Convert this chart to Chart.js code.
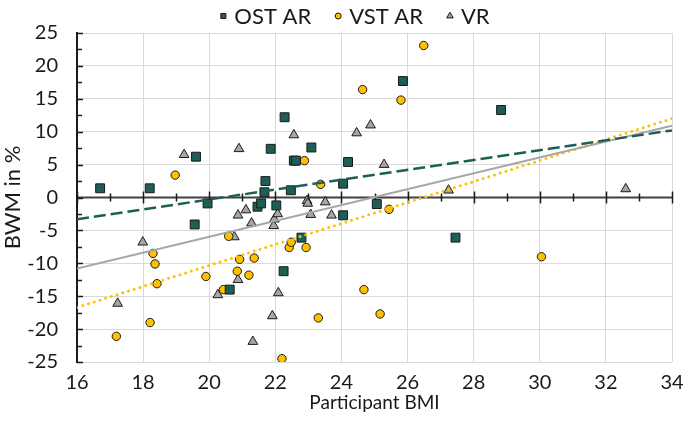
<!DOCTYPE html>
<html>
<head>
<meta charset="utf-8">
<script src="https://cdn.jsdelivr.net/npm/chart.js@4/dist/chart.umd.min.js"></script>
<style>
  html, body { margin: 0; padding: 0; background: #fff; }
  #wrap { width: 687px; height: 426px; }
</style>
</head>
<body>
<div id="wrap"><canvas id="chart" width="687" height="426"></canvas></div>
<script>
// data
const seriesNames = ['OST AR', 'VST AR', 'VR'];

const ostBmi = [16.7, 18.2, 19.6, 19.56, 19.95, 20.62, 21.46, 21.57, 21.67, 21.7, 21.86, 22.03, 22.25, 22.28, 22.47, 22.56, 22.62, 22.79, 23.09, 24.05, 24.05, 24.2, 25.07, 25.86, 27.45, 28.83];
const ostBwm = [1.4, 1.4, 6.2, -4.1, -0.9, -14.0, -1.4, -0.9, 0.8, 2.5, 7.4, -1.2, -11.2, 12.2, 1.1, 5.6, 5.6, -6.1, 7.6, 2.1, -2.7, 5.4, -1.0, 17.7, -6.1, 13.3];

const vstBmi = [17.19, 18.21, 18.3, 18.36, 18.42, 18.97, 19.9, 20.43, 20.59, 20.85, 20.92, 21.2, 21.36, 22.2, 22.42, 22.48, 22.88, 22.93, 23.3, 23.37, 24.64, 24.68, 25.17, 25.44, 25.8, 26.49, 30.05];
const vstBwm = [-21.1, -19.0, -8.5, -10.1, -13.1, 3.4, -12.0, -14.0, -5.9, -11.2, -9.4, -11.8, -9.2, -24.5, -7.6, -6.8, 5.6, -7.6, -18.3, 2.0, 16.4, -14.0, -17.7, -1.8, 14.8, 23.1, -9.0];

const vrBmi = [17.23, 17.99, 19.24, 20.26, 20.76, 20.87, 20.87, 20.9, 21.11, 21.28, 21.32, 21.91, 21.95, 21.97, 22.07, 22.09, 22.56, 22.96, 22.98, 23.07, 23.51, 23.7, 24.46, 24.88, 25.29, 27.24, 32.6];
const vrBwm = [-16.1, -6.8, 6.5, -14.8, -6.0, -2.7, -12.5, 7.4, -1.9, -3.9, -21.9, -18.0, -4.3, -3.3, -2.5, -14.5, 9.5, -0.5, -0.9, -2.6, -0.7, -2.7, 9.8, 11.0, 5.0, 1.1, 1.3];

// linear trend lines, end points read at BMI 16 and 34
const trendBmi = [16, 34];
const ostTrend = [-3.3, 10.2];
const vstTrend = [-16.7, 12.0];
const vrTrend = [-10.8, 10.9];

const TEAL = '#1d5e57';
const YELLOW = '#ffc000';
const GREY = '#a6a6a6';
const FONT = 'Lato';

function pts(xs, ys) {
    return xs.map((x, i) => ({ x: x, y: ys[i] }));
}

// axis line at y = 0 with crossing tick marks, inner ticks on the y axis
const axisPlugin = {
    id: 'axisPlugin',
    beforeDatasetsDraw(chart) {
        const ctx = chart.ctx;
        const xs = chart.scales.x, ys = chart.scales.y;
        const y0 = ys.getPixelForValue(0);
        const left = chart.chartArea.left;
        ctx.save();
        ctx.strokeStyle = '#404040';
        ctx.lineWidth = 2;
        ctx.beginPath();
        ctx.moveTo(left, y0);
        ctx.lineTo(chart.chartArea.right, y0);
        ctx.stroke();
        ctx.lineWidth = 1.5;
        ctx.strokeStyle = '#1a1a1a';
        for (let v = 16; v <= 34; v++) {
            const px = Math.round(xs.getPixelForValue(v)) + 0.5;
            const len = v % 2 === 0 ? 6 : 4;
            ctx.beginPath();
            ctx.moveTo(px, y0 - len);
            ctx.lineTo(px, y0 + len);
            ctx.stroke();
        }
        for (let v = -25; v <= 25; v += 2.5) {
            const py = Math.round(ys.getPixelForValue(v)) + 0.5;
            const len = v % 5 === 0 ? 6 : 5;
            ctx.beginPath();
            ctx.moveTo(left, py);
            ctx.lineTo(left + len, py);
            ctx.stroke();
        }
        ctx.restore();
    }
};

// legend row at the top, markers taken from the first three datasets
const legendPlugin = {
    id: 'legendRow',
    afterDraw(chart) {
        const ctx = chart.ctx;
        const sets = chart.data.datasets.slice(0, 3);
        const sizes = [3.6, 3, 3.8];
        ctx.save();
        ctx.font = '22px ' + FONT;
        ctx.textBaseline = 'middle';
        const widths = sets.map(d => ctx.measureText(d.label).width);
        let total = widths.reduce((a, b) => a + b, 0) + sets.length * 14 + (sets.length - 1) * 24;
        let x = 355 - total / 2;
        const y = 16;
        sets.forEach((d, i) => {
            ctx.fillStyle = d.backgroundColor;
            ctx.strokeStyle = d.borderColor;
            ctx.lineWidth = 1;
            Chart.helpers.drawPoint(ctx, { pointStyle: d.pointStyle, radius: sizes[i], borderWidth: 1 }, x + 3, y);
            ctx.fillStyle = '#1a1a1a';
            ctx.fillText(d.label, x + 14, y + 1);
            x += 14 + widths[i] + 24;
        });
        ctx.restore();
    }
};

const markerBase = { borderColor: '#1a1a1a', borderWidth: 1, showLine: false, order: 1 };
const trendBase = { showLine: true, pointRadius: 0, fill: false, order: 0 };

new Chart(document.getElementById('chart'), {
    type: 'scatter',
    data: {
        datasets: [
            Object.assign({ label: seriesNames[0], data: pts(ostBmi, ostBwm), backgroundColor: TEAL, pointStyle: 'rect', pointRadius: 6.3 }, markerBase),
            Object.assign({ label: seriesNames[1], data: pts(vstBmi, vstBwm), backgroundColor: YELLOW, pointStyle: 'circle', pointRadius: 4.2 }, markerBase),
            Object.assign({ label: seriesNames[2], data: pts(vrBmi, vrBwm), backgroundColor: GREY, pointStyle: 'triangle', pointRadius: 5.6 }, markerBase),
            Object.assign({ label: 'trend OST', data: pts(trendBmi, ostTrend), borderColor: TEAL, borderWidth: 2.5, borderDash: [12, 5] }, trendBase),
            Object.assign({ label: 'trend VR', data: pts(trendBmi, vrTrend), borderColor: GREY, borderWidth: 2 }, trendBase),
            Object.assign({ label: 'trend VST', data: pts(trendBmi, vstTrend), borderColor: YELLOW, borderWidth: 3, borderDash: [0, 6], borderCapStyle: 'round' }, trendBase)
        ]
    },
    options: {
        responsive: false,
        animation: false,
        layout: { padding: { top: 33, right: 15, left: 0, bottom: 0 } },
        plugins: {
            tooltip: { enabled: false },
            legend: { display: false }
        },
        scales: {
            x: {
                type: 'linear',
                min: 16, max: 34,
                ticks: { stepSize: 2, color: '#1a1a1a', padding: 9, font: { family: FONT, size: 20 } },
                grid: { color: '#d9d9d9', lineWidth: 1, drawTicks: false },
                border: { display: false },
                title: { display: true, text: 'Participant BMI', color: '#1a1a1a', padding: { top: 0, bottom: 12 }, font: { family: FONT, size: 19 } },
                afterFit: s => { s.height = 64; s.paddingLeft = 0; s.paddingRight = 0; }
            },
            y: {
                type: 'linear',
                min: -25, max: 25,
                ticks: { stepSize: 5, color: '#1a1a1a', padding: 19, font: { family: FONT, size: 20 } },
                grid: { color: c => c.tick.value === 0 ? 'rgba(0,0,0,0)' : '#d9d9d9', lineWidth: 1, drawTicks: false },
                border: { display: true, color: '#1a1a1a', width: 2 },
                title: { display: true, text: 'BWM in %', color: '#1a1a1a', padding: { top: 0, bottom: 0 }, font: { family: FONT, size: 22 } },
                afterFit: s => { s.width = 77; s.paddingTop = 0; s.paddingBottom = 0; }
            }
        }
    },
    plugins: [axisPlugin, legendPlugin]
});
</script>
</body>
</html>
